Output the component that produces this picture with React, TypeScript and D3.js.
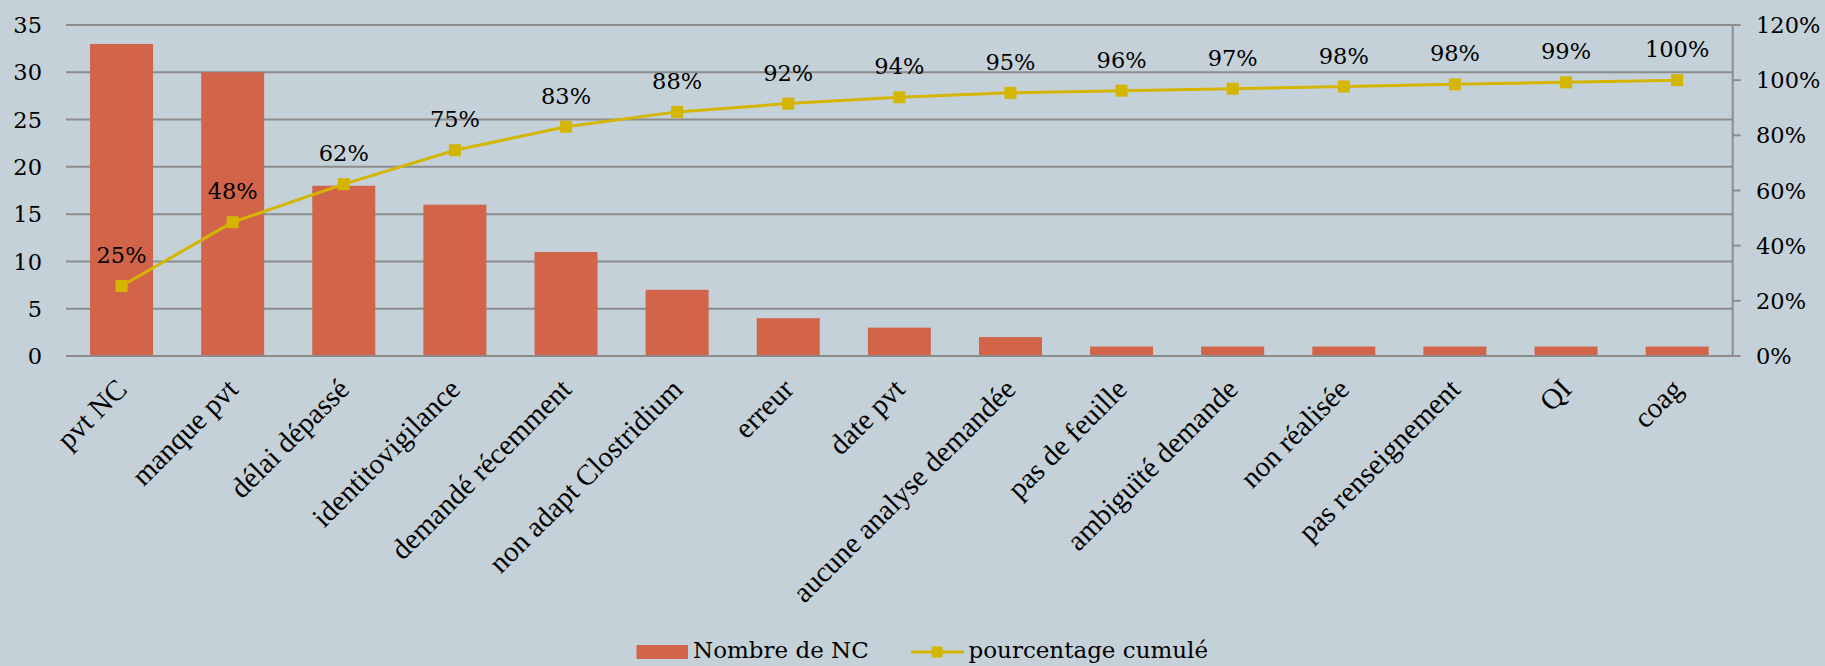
import React from "react";
import * as d3 from "d3";

const categories = [
  "pvt NC",
  "manque pvt",
  "délai dépassé",
  "identitovigilance",
  "demandé récemment",
  "non adapt Clostridium",
  "erreur",
  "date pvt",
  "aucune analyse demandée",
  "pas de feuille",
  "ambiguïté demande",
  "non réalisée",
  "pas renseignement",
  "QI",
  "coag",
];
const nombreNC = [33, 30, 18, 16, 11, 7, 4, 3, 2, 1, 1, 1, 1, 1, 1];
const pourcentageCumule = [25.4, 48.5, 62.3, 74.6, 83.1, 88.5, 91.5, 93.8, 95.4, 96.2, 96.9, 97.7, 98.5, 99.2, 100];
const pctLabels = ["25%", "48%", "62%", "75%", "83%", "88%", "92%", "94%", "95%", "96%", "97%", "98%", "98%", "99%", "100%"];
const leftTicks = [0, 5, 10, 15, 20, 25, 30, 35];
const rightTicks = [0, 20, 40, 60, 80, 100, 120];

const W = 1825;
const H = 666;
const BG = "#C5D1D8";
const BAR = "#D2644A";
const LINE = "#D4B500";
const GRID = "#8C8C8C";
const NUM_FONT = "'DejaVu Serif', serif";
const CAT_FONT = "'Liberation Serif', serif";

export default function App() {
  const left = 66;
  const right = 1732.7;
  const top = 25;
  const bottom = 356;

  const x = d3
    .scaleBand<string>()
    .domain(categories)
    .range([left, right])
    .paddingInner(0.433)
    .paddingOuter(0.2165);
  const yL = d3.scaleLinear().domain([0, 35]).range([bottom, top]);
  const yR = d3.scaleLinear().domain([0, 120]).range([bottom, top]);

  const cx = (c: string) => (x(c) as number) + x.bandwidth() / 2;

  const linePath = d3
    .line<number>()
    .x((_, i) => cx(categories[i]))
    .y((d) => yR(d))(pourcentageCumule) as string;

  const ms = 12;

  return (
    <svg
      width={W}
      height={H}
      style={{ position: "absolute", left: 0, top: 0, display: "block" }}
    >
      <rect x={0} y={0} width={W} height={H} fill={BG} />

      {/* gridlines (primary axis) */}
      {leftTicks.map((t) => (
        <line
          key={"g" + t}
          x1={left}
          x2={right}
          y1={yL(t)}
          y2={yL(t)}
          stroke={GRID}
          strokeWidth={2}
        />
      ))}

      {/* right axis line & ticks */}
      <line x1={right} x2={right} y1={top} y2={bottom} stroke={GRID} strokeWidth={2} />
      {rightTicks.map((t) => (
        <line
          key={"rt" + t}
          x1={right}
          x2={right + 8}
          y1={yR(t)}
          y2={yR(t)}
          stroke={GRID}
          strokeWidth={2}
        />
      ))}

      {/* left tick labels */}
      {leftTicks.map((t) => (
        <text
          key={"lt" + t}
          x={42}
          y={yL(t)}
          dy="0.36em"
          textAnchor="end"
          fontFamily={NUM_FONT}
          fontSize={22.5}
          fill="#000"
        >
          {t}
        </text>
      ))}

      {/* right tick labels */}
      {rightTicks.map((t) => (
        <text
          key={"rl" + t}
          x={1756}
          y={yR(t)}
          dy="0.36em"
          textAnchor="start"
          fontFamily={NUM_FONT}
          fontSize={22.5}
          fill="#000"
        >
          {t + "%"}
        </text>
      ))}

      {/* bars */}
      {nombreNC.map((v, i) => (
        <rect
          key={"b" + i}
          x={x(categories[i])}
          y={yL(v)}
          width={x.bandwidth()}
          height={yL(0) - yL(v)}
          fill={BAR}
        />
      ))}

      {/* baseline redraw on top */}
      <line x1={left} x2={right} y1={bottom} y2={bottom} stroke={GRID} strokeWidth={2} />

      {/* line */}
      <path d={linePath} fill="none" stroke={LINE} strokeWidth={3} />
      {pourcentageCumule.map((v, i) => (
        <rect
          key={"m" + i}
          x={cx(categories[i]) - ms / 2}
          y={yR(v) - ms / 2}
          width={ms}
          height={ms}
          fill={LINE}
        />
      ))}
      {pourcentageCumule.map((v, i) => (
        <text
          key={"pl" + i}
          x={cx(categories[i])}
          y={yR(v) - 23}
          textAnchor="middle"
          fontFamily={NUM_FONT}
          fontSize={22.5}
          fill="#000"
        >
          {pctLabels[i]}
        </text>
      ))}

      {/* category labels */}
      {categories.map((c) => (
        <text
          key={"c" + c}
          transform={`translate(${cx(c) + 7},${bottom + 35}) rotate(-45)`}
          textAnchor="end"
          fontFamily={CAT_FONT}
          fontSize={29}
          fill="#000"
        >
          {c}
        </text>
      ))}

      {/* legend */}
      <rect x={636.5} y={645} width={51.5} height={14} fill={BAR} />
      <text x={693} y={658} fontFamily={NUM_FONT} fontSize={23} fill="#000">
        Nombre de NC
      </text>
      <line x1={911} x2={964} y1={652} y2={652} stroke={LINE} strokeWidth={3} />
      <rect x={931.5} y={646.5} width={11} height={11} fill={LINE} />
      <text x={968.5} y={658} fontFamily={NUM_FONT} fontSize={23} fill="#000">
        pourcentage cumulé
      </text>
    </svg>
  );
}
